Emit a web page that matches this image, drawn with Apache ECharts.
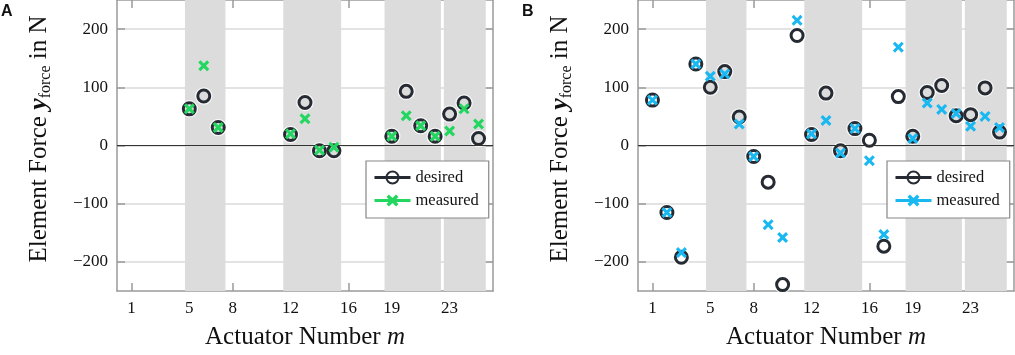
<!DOCTYPE html>
<html>
<head>
<meta charset="utf-8">
<script src="https://cdn.jsdelivr.net/npm/echarts@6/dist/echarts.min.js"></script>
<style>
  html, body { margin: 0; padding: 0; background: #fff; }
  #main { width: 1015px; height: 355px; }
</style>
</head>
<body>
<div id="main"></div>
<script>
// actuator numbers and forces (N)
var actuatorsA = [5, 6, 7, 12, 13, 14, 15, 19, 20, 21, 22, 23, 24, 25];
var desiredA   = [63, 85, 31, 19, 74, -9, -9, 16, 93, 34, 16, 54, 73, 12];
var measuredA  = [63, 137, 31, 20, 46, -8, -3, 16, 51, 34, 16, 25, 63, 37];

var actuatorsB = [1, 2, 3, 4, 5, 6, 7, 8, 9, 10, 11, 12, 13, 14, 15, 16, 17, 18, 19, 20, 21, 22, 23, 24, 25];
var desiredB   = [78, -115, -192, 140, 100, 127, 49, -19, -63, -239, 189, 19, 90, -9, 29, 9, -173, 84, 16, 91, 103, 51, 53, 99, 23];
var measuredB  = [78, -115, -184, 140, 119, 123, 37, -19, -136, -158, 215, 20, 43, -13, 29, -26, -153, 169, 12, 73, 62, 55, 33, 50, 31];

// shaded actuator groups
var bands = [[4.7, 7.5], [11.5, 15.5], [18.5, 22.4], [22.6, 25.5]];

var xTicks = [1, 5, 8, 12, 16, 19, 23];
var yTicks = [-200, -100, 0, 100, 200];

var serif = '"Liberation Serif", "DejaVu Serif", serif';
var ringColor = '#262b33';
var axisGray = '#9a9a9a';
var crossPath = 'path://M2,0 L5,3 L8,0 L10,2 L7,5 L10,8 L8,10 L5,7 L2,10 L0,8 L3,5 L0,2 Z';

function pairs(xs, ys) {
    return xs.map(function (x, i) { return [x, ys[i]]; });
}

var grids = [], xAxes = [], yAxes = [], series = [], legends = [], graphics = [];

function frameAxis(extra) {
    var a = {
        type: 'value',
        axisLine: { show: true, onZero: false, lineStyle: { color: axisGray, width: 1.5 } },
        axisTick: { show: true, inside: true, length: 8, lineStyle: { color: axisGray, width: 1.5 } },
        axisLabel: { show: false },
        splitLine: { show: false }
    };
    for (var k in extra) a[k] = extra[k];
    return a;
}

function addPanel(left, xs, desired, measured, crossColor, tag) {
    var gi = grids.length;
    grids.push({ left: left, top: 0, width: 376, height: 293 });

    var xi = xAxes.length, yi = yAxes.length;
    var bottom = frameAxis({
        gridIndex: gi, min: 0, max: 26, position: 'bottom',
        name: '{t|Actuator Number }{m|m}',
        nameLocation: 'middle', nameGap: 34,
        nameTextStyle: {
            rich: {
                t: { fontFamily: serif, fontSize: 25, color: '#111' },
                m: { fontFamily: serif, fontSize: 25, fontStyle: 'italic', color: '#111' }
            }
        },
        axisLabel: { customValues: xTicks, margin: 9, fontFamily: serif, fontSize: 17, color: '#111' }
    });
    bottom.axisTick.customValues = xTicks;
    xAxes.push(bottom);

    var top = frameAxis({ gridIndex: gi, min: 0, max: 26, position: 'top' });
    top.axisTick.customValues = xTicks;
    xAxes.push(top);

    var leftAx = frameAxis({
        gridIndex: gi, min: -250, max: 250, position: 'left',
        axisLabel: {
            customValues: yTicks, margin: 9, fontFamily: serif, fontSize: 17, color: '#111',
            formatter: function (v) { return String(v).replace('-', '\u2212'); }
        },
        splitLine: { show: true, lineStyle: { color: '#dadada', width: 1.5 } }
    });
    leftAx.axisTick.customValues = yTicks;
    yAxes.push(leftAx);

    var rightAx = frameAxis({ gridIndex: gi, min: -250, max: 250, position: 'right' });
    rightAx.axisTick.customValues = yTicks;
    yAxes.push(rightAx);

    // grey bands
    series.push({
        type: 'line', data: [], xAxisIndex: xi, yAxisIndex: yi, z: 1, silent: true,
        markArea: {
            silent: true,
            itemStyle: { color: '#dcdcdc' },
            data: bands.map(function (b) { return [{ xAxis: b[0] }, { xAxis: b[1] }]; })
        }
    });
    // zero line
    series.push({
        type: 'line', data: [], xAxisIndex: xi, yAxisIndex: yi, z: 2, silent: true,
        markLine: {
            silent: true, symbol: 'none', label: { show: false },
            lineStyle: { color: '#333', width: 1, type: 'solid' },
            data: [{ yAxis: 0 }]
        }
    });
    // white halo under the rings
    series.push({
        type: 'scatter', data: pairs(xs, desired), xAxisIndex: xi, yAxisIndex: yi, z: 3, silent: true,
        symbol: 'circle', symbolSize: 15,
        itemStyle: { color: 'rgba(0,0,0,0)', borderColor: '#fff', borderWidth: 2.5 }
    });
    series.push({
        type: 'line', name: 'desired' + tag, data: pairs(xs, desired), xAxisIndex: xi, yAxisIndex: yi, z: 4,
        symbol: 'circle', symbolSize: 12, showSymbol: true, showAllSymbol: true,
        itemStyle: { color: 'rgba(0,0,0,0)', borderColor: ringColor, borderWidth: 3 },
        lineStyle: { color: ringColor, width: 3, opacity: 0 },
        emphasis: { disabled: true }
    });
    series.push({
        type: 'line', name: 'measured' + tag, data: pairs(xs, measured), xAxisIndex: xi, yAxisIndex: yi, z: 5,
        symbol: crossPath, symbolSize: 11, showSymbol: true, showAllSymbol: true,
        itemStyle: { color: crossColor, borderWidth: 0 },
        lineStyle: { color: crossColor, width: 3, opacity: 0 },
        emphasis: { disabled: true }
    });

    legends.push({
        data: ['desired' + tag, 'measured' + tag],
        formatter: function (n) { return n.slice(0, -1); },
        orient: 'vertical', left: left + 249, top: 161,
        itemWidth: 36, itemHeight: 15, itemGap: 6,
        padding: [8, 10, 9, 7],
        backgroundColor: '#fff', borderColor: '#888', borderWidth: 1.2,
        selectedMode: false,
        lineStyle: { opacity: 1, width: 3 },
        textStyle: { fontFamily: serif, fontSize: 16.5, color: '#111' }
    });

    // y title
    graphics.push({
        type: 'text', x: left - 78, y: 139, rotation: Math.PI / 2,
        style: {
            text: '{t|Element Force }{v|y}{s|force}{t| in N}',
            align: 'center', verticalAlign: 'middle',
            rich: {
                t: { fontFamily: serif, fontSize: 25, lineHeight: 30, fill: '#111' },
                v: { fontFamily: serif, fontSize: 26, fontStyle: 'italic', fontWeight: 'bold', lineHeight: 30, fill: '#111' },
                s: { fontFamily: serif, fontSize: 16, lineHeight: 16, verticalAlign: 'bottom', fill: '#111' }
            }
        }
    });
    // panel letter
    graphics.push({
        type: 'text', x: left - 116, y: 4,
        style: { text: tag, fontFamily: '"Liberation Sans", Arial, sans-serif', fontWeight: 'bold', fontSize: 16, fill: '#111' }
    });
}

addPanel(117, actuatorsA, desiredA, measuredA, '#22d660', 'A');
addPanel(638, actuatorsB, desiredB, measuredB, '#1ab8f0', 'B');

var chart = echarts.init(document.getElementById('main'), null, { renderer: 'canvas' });
chart.setOption({
    animation: false,
    backgroundColor: '#fff',
    grid: grids,
    xAxis: xAxes,
    yAxis: yAxes,
    legend: legends,
    graphic: graphics,
    series: series
});
</script>
</body>
</html>
